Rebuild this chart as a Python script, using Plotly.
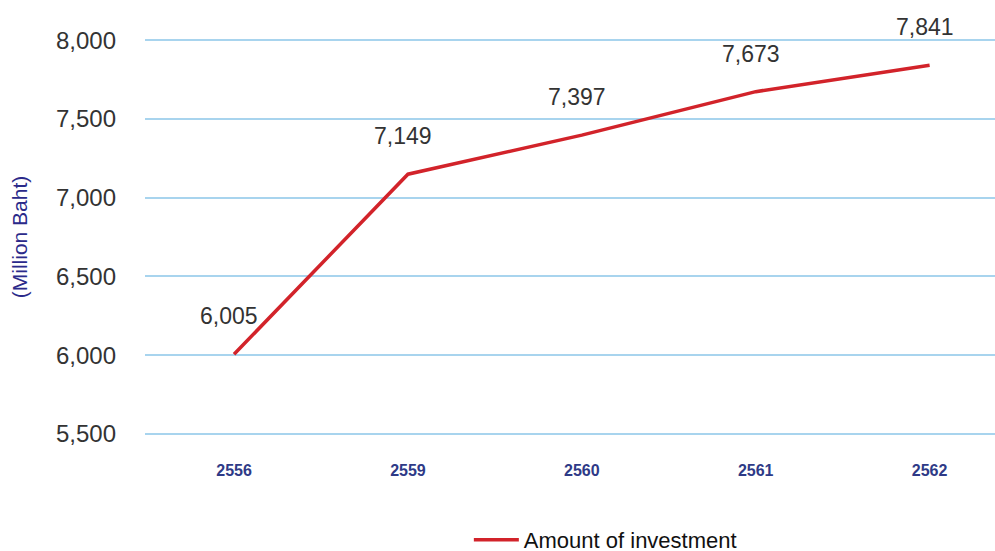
import plotly.graph_objects as go

years = ["2556", "2559", "2560", "2561", "2562"]
investment = [6005, 7149, 7397, 7673, 7841]
labels = ["6,005", "7,149", "7,397", "7,673", "7,841"]
y_ticks = [5500, 6000, 6500, 7000, 7500, 8000]

FONT = "Liberation Sans, Arial, Helvetica, sans-serif"

fig = go.Figure()
fig.add_trace(go.Scatter(
    x=years, y=investment, mode="lines", name="Amount of investment",
    line=dict(color="#d2232a", width=3.5),
))

for i, (y, t) in enumerate(zip(investment, labels)):
    fig.add_annotation(x=i, y=y, xref="x", yref="y", text=t, showarrow=False,
                       yshift=38, xshift=-5,
                       font=dict(family=FONT, size=23, color="#333333"))

fig.update_layout(
    width=995, height=551,
    margin=dict(l=145, r=0, t=37, b=114, autoexpand=False),
    paper_bgcolor="white", plot_bgcolor="white",
    font=dict(family=FONT),
    showlegend=True,
    legend=dict(orientation="h", x=0.381, xanchor="left", y=-0.205, yanchor="top",
                itemwidth=45,
                font=dict(size=22, color="#111111")),
    xaxis=dict(
        type="category", range=[-0.512, 4.376], showgrid=False, zeroline=False,
        showline=False, automargin=False,
        tickfont=dict(size=16, color="#2e3a87", family=FONT, weight="bold"),
        ticklabelstandoff=22,
    ),
    yaxis=dict(
        range=[5480, 8020], tickvals=y_ticks, tickformat=",",
        showgrid=True, gridcolor="#a8d4ee", gridwidth=1.5, zeroline=False,
        automargin=False,
        tickfont=dict(size=24, color="#333333"),
        ticklabelstandoff=28,
        title=dict(text="(Million Baht)", font=dict(size=21, color="#2b2a8a"), standoff=22),
    ),
)

fig.write_html("out.html",
               config={"displayModeBar": False},
               post_script="document.body.style.margin='0';document.body.style.overflow='hidden';")
